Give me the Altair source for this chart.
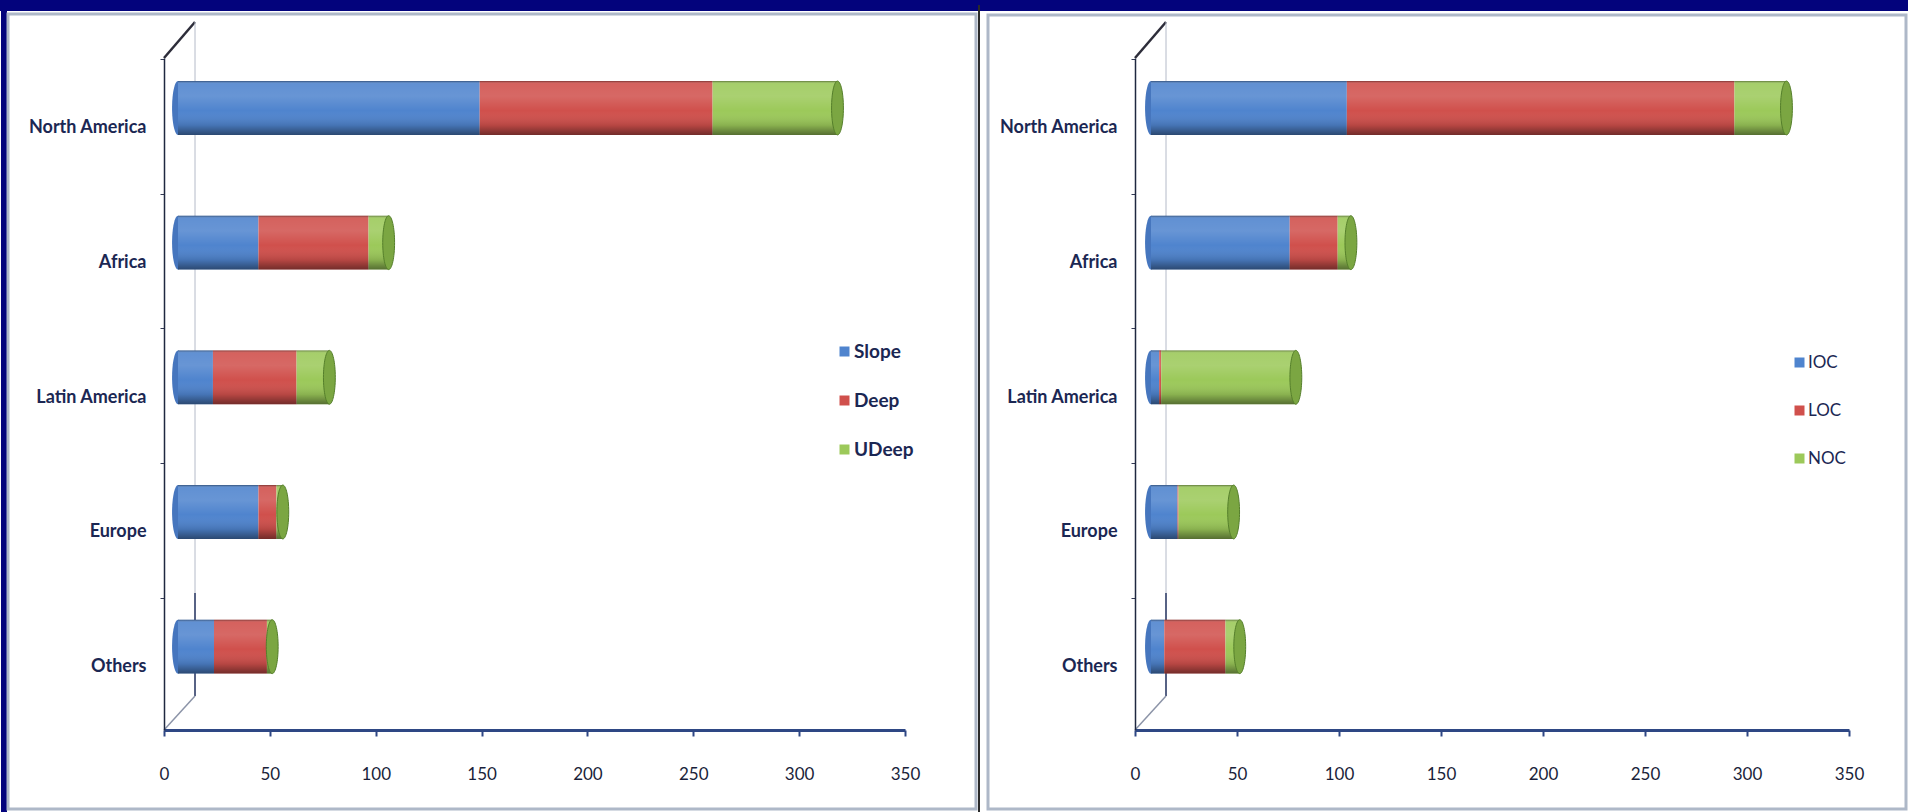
import altair as alt
import pandas as pd

# ---------------- data ----------------
regions = ["North America", "Africa", "Latin America", "Europe", "Others"]

left_series = ["Slope", "Deep", "UDeep"]
slope = [142.5, 38, 16.5, 38, 17]
deep = [110, 52, 39.5, 8.5, 25]
udeep = [59, 9.5, 15.5, 3, 2.5]

right_series = ["IOC", "LOC", "NOC"]
ioc = [96, 68, 4, 13, 6.5]
loc = [190, 23.5, 1, 0.5, 30]
noc = [25.5, 6.5, 66, 27, 7]

x_ticks = [0, 50, 100, 150, 200, 250, 300, 350]

# ---------------- styling ----------------
colors = ["#4F84CE", "#D0504C", "#9CC95A"]
NAVY = "#03037C"
TXT = "#1B2753"
FONT = "Lato"

H = 672  # plot height (px)
ELL = "M0,-1A0.22,1,0,1,1,0,1A0.22,1,0,1,1,0,-1Z"
CAP_SIZE = 2902

shade = alt.LinearGradient(
    gradient="linear", x1=0, x2=0, y1=0, y2=1,
    stops=[
        alt.GradientStop(color="rgba(0,0,0,0.40)", offset=0),
        alt.GradientStop(color="rgba(255,255,255,0.10)", offset=0.05),
        alt.GradientStop(color="rgba(255,255,255,0.14)", offset=0.28),
        alt.GradientStop(color="rgba(255,255,255,0.0)", offset=0.55),
        alt.GradientStop(color="rgba(0,0,0,0.12)", offset=0.82),
        alt.GradientStop(color="rgba(0,0,0,0.45)", offset=1),
    ],
)

one = pd.DataFrame({"k": [0]})


def long_df(series, arrays):
    rows = []
    for i, r in enumerate(regions):
        for j, s in enumerate(series):
            rows.append({"region": r, "series": s, "value": arrays[j][i], "idx": j})
    return pd.DataFrame(rows)


def rect(x, x2, y, y2, **kw):
    return alt.Chart(one).mark_rect(**kw).encode(
        x=alt.value(x), x2=alt.value(x2), y=alt.value(y), y2=alt.value(y2))


def line(x, y, x2, y2, **kw):
    return alt.Chart(one).mark_rule(**kw).encode(
        x=alt.value(x), x2=alt.value(x2), y=alt.value(y), y2=alt.value(y2))


def panel(series, arrays, width, off, legend_x, legend_y, leg_bold, row_pad, frame):
    df = long_df(series, arrays)
    xs = alt.Scale(domain=[0, 350], nice=False, zero=True)
    xa = alt.Axis(title=None, values=x_ticks, grid=False, tickSize=6, tickWidth=2,
                  tickColor="#2E4784", domainColor="#2E4784", domainWidth=3,
                  labelFont=FONT, labelFontSize=17, labelColor="#1a1f3a",
                  labelPadding=30, labelFlush=False, zindex=1)
    ys = alt.Scale(domain=regions, paddingInner=0.6, paddingOuter=0.295, align=0.29)
    ya = alt.Axis(title=None, grid=False, bandPosition=0, tickOffset=-22, labelOffset=42,
                  tickSize=4, tickColor="#333a55", domainColor="#1f2840", domainWidth=1.5,
                  labelPadding=14, labelFont=FONT, labelFontSize=18, labelFontWeight="bold",
                  labelColor=TXT, zindex=1)
    Y = alt.Y("region:N", sort=regions, scale=ys, axis=ya)

    layers = frame + [
        # 3-D wall outline
        line(31, 0, 31, 638, color="#B4BAC8", strokeWidth=1),
        line(31, 535, 31, 638, color="#2B3A66", strokeWidth=1.5),
        line(31, 638, 0, H, color="#8C94A8", strokeWidth=1.5),
        line(0, 0, 31, -36, color="#2d2d3a", strokeWidth=2.5),
        line(31, -36, 31, 0, color="#B4BAC8", strokeWidth=1),
    ]

    base = alt.Chart(df)
    totals = base.transform_aggregate(total="sum(value)", groupby=["region"])

    left_cap = totals.transform_calculate(zero="0").mark_point(
        shape=ELL, size=CAP_SIZE, filled=True, opacity=1, color="#4676BE", xOffset=off
    ).encode(x=alt.X("zero:Q", scale=xs, axis=xa), y=Y)

    bars = base.mark_bar(xOffset=off, x2Offset=off).encode(
        x=alt.X("value:Q", stack="zero", scale=xs, axis=xa),
        y=Y,
        color=alt.Color("series:N", scale=alt.Scale(domain=series, range=colors),
                        legend=alt.Legend(title=None, orient="none", legendX=legend_x,
                                          legendY=legend_y, symbolType="square",
                                          symbolSize=100, symbolStrokeWidth=0,
                                          labelFont=FONT, labelFontSize=19 if leg_bold else 17,
                                          labelFontWeight="bold" if leg_bold else "normal",
                                          labelColor=TXT, rowPadding=row_pad, padding=0,
                                          labelOffset=0)),
        order=alt.Order("idx:Q"),
    )

    overlay = totals.mark_bar(color=shade, xOffset=off, x2Offset=off).encode(
        x=alt.X("total:Q", scale=xs, axis=xa), y=Y)

    right_cap = totals.mark_point(
        shape=ELL, size=CAP_SIZE, filled=True, opacity=1, fill="#7BA642",
        stroke="#557F2B", strokeWidth=1, xOffset=off
    ).encode(x=alt.X("total:Q", scale=xs, axis=xa), y=Y)

    layers += [left_cap, bars, overlay, right_cap]
    return alt.layer(*layers).properties(width=width, height=H)


left_frame = [
    rect(-164, 816, -58, 754, color="white"),
    rect(-164, 816, -58, -47, color=NAVY),
    rect(-163, -157, -58, 754, color=NAVY),
    rect(-156, 812, -44, 751, fill="white", stroke="#AEB8C8", strokeWidth=3),
    line(815, -53, 815, 754, color="#2a2a2a", strokeWidth=2),
]
right_frame = [
    rect(-155, 773, -58, 754, color="white"),
    rect(-155, 773, -58, -47, color=NAVY),
    rect(-147, 771, -43, 751, fill="white", stroke="#AEB8C8", strokeWidth=3),
]

left = panel(left_series, [slope, deep, udeep], 741, 14, 671, 284, True, 29, left_frame)
right = panel(right_series, [ioc, loc, noc], 714, 16, 656, 296, False, 30, right_frame)

chart = (
    alt.hconcat(left, right, spacing=0)
    .resolve_scale(color="independent")
    .properties(padding=0, background="white")
    .configure_view(strokeWidth=0)
)

chart.save("out.html", embed_options={"renderer": "svg", "actions": False})
